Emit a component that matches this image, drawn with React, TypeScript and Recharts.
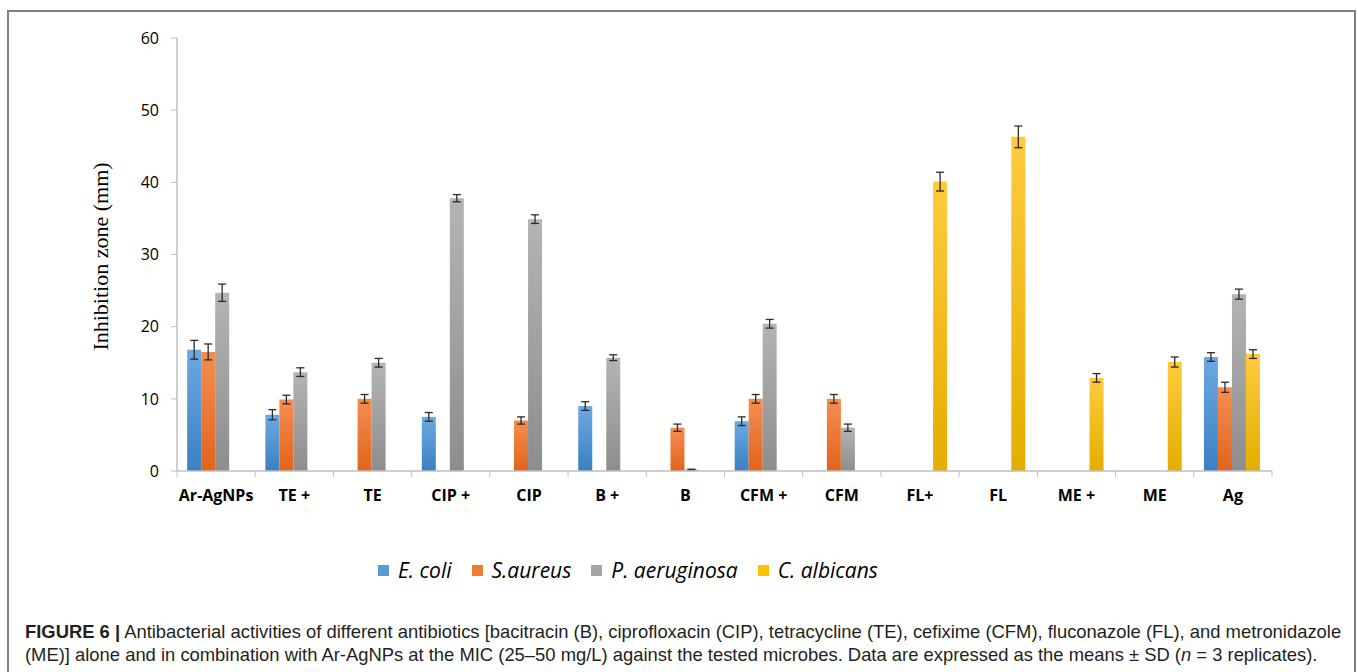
import React from 'react';
import { BarChart, Bar, XAxis, YAxis, ErrorBar, Legend } from 'recharts';

const categories = ['Ar-AgNPs', 'TE +', 'TE', 'CIP +', 'CIP', 'B +', 'B', 'CFM +', 'CFM', 'FL+', 'FL', 'ME +', 'ME', 'Ag'];

const ecoli = [16.8, 7.8, null, 7.5, null, 9.0, null, 6.9, null, null, null, null, null, 15.8];
const ecoliSD = [1.3, 0.7, null, 0.6, null, 0.6, null, 0.6, null, null, null, null, null, 0.6];

const saureus = [16.5, 9.9, 10.0, null, 7.0, null, 6.0, 10.0, 10.0, null, null, null, null, 11.6];
const saureusSD = [1.1, 0.6, 0.6, null, 0.5, null, 0.5, 0.6, 0.6, null, null, null, null, 0.7];

const paeruginosa = [24.7, 13.7, 15.0, 37.8, 34.9, 15.7, 0.2, 20.4, 6.0, null, null, null, null, 24.5];
const paeruginosaSD = [1.2, 0.6, 0.6, 0.5, 0.6, 0.4, 0.05, 0.6, 0.5, null, null, null, null, 0.7];

const calbicans = [null, null, null, null, null, null, null, null, null, 40.1, 46.3, 12.9, 15.1, 16.2];
const calbicansSD = [null, null, null, null, null, null, null, null, null, 1.3, 1.5, 0.6, 0.7, 0.6];

const yTicks = [0, 10, 20, 30, 40, 50, 60];

const data = categories.map((name, i) => ({
  name,
  ecoli: ecoli[i],
  ecoliSD: ecoliSD[i],
  saureus: saureus[i],
  saureusSD: saureusSD[i],
  paeruginosa: paeruginosa[i],
  paeruginosaSD: paeruginosaSD[i],
  calbicans: calbicans[i],
  calbicansSD: calbicansSD[i],
}));

const series = [
  { key: 'ecoli', name: 'E. coli', top: '#6DA9E1', bottom: '#3B80C3', swatch: '#5B9BD5' },
  { key: 'saureus', name: 'S.aureus', top: '#F38E52', bottom: '#E2641B', swatch: '#ED7D31' },
  { key: 'paeruginosa', name: 'P. aeruginosa', top: '#B4B4B4', bottom: '#8D8D8D', swatch: '#A5A5A5' },
  { key: 'calbicans', name: 'C. albicans', top: '#FFCB3D', bottom: '#E4AD00', swatch: '#FFC000' },
];

const CHART_W = 1358;
const CHART_H = 600;
const MARGIN = { top: 38, right: 86, left: 117, bottom: 99 };
const Y_W = 60;
const X_H = 30;
const PLOT_W = CHART_W - MARGIN.left - Y_W - MARGIN.right;
const BAND = PLOT_W / categories.length;
const AXIS_COLOR = '#BFBFBF';

const XTick = (props: any) => {
  const { x, y, payload, index } = props;
  const half = BAND / 2;
  return (
    <g>
      <line x1={x - half} x2={x - half} y1={y} y2={y + 6} stroke={AXIS_COLOR} strokeWidth={1} />
      {index === categories.length - 1 && (
        <line x1={x + half} x2={x + half} y1={y} y2={y + 6} stroke={AXIS_COLOR} strokeWidth={1} />
      )}
      <text
        x={x}
        y={y + 30}
        textAnchor="middle"
        fontFamily="'Open Sans', sans-serif"
        fontWeight={700}
        fontSize={16}
        fill="#000"
      >
        {payload.value}
      </text>
    </g>
  );
};

const YLabel = (props: any) => {
  const { viewBox } = props;
  const cy = viewBox.y + viewBox.height / 2 + 2;
  const cx = 108;
  return (
    <text
      x={cx}
      y={cy}
      transform={`rotate(-90, ${cx}, ${cy})`}
      textAnchor="middle"
      fontFamily="'Liberation Serif', 'Times New Roman', serif"
      fontSize={22}
      fill="#000"
    >
      Inhibition zone (mm)
    </text>
  );
};

const LegendContent = () => (
  <div
    style={{
      display: 'flex',
      alignItems: 'center',
      height: 26,
      paddingLeft: 378,
      fontFamily: "'Open Sans', sans-serif",
      fontStyle: 'italic',
      fontSize: 21,
      color: '#000',
      whiteSpace: 'nowrap',
    }}
  >
    {series.map((s) => (
      <div key={s.key} style={{ display: 'flex', alignItems: 'center', marginRight: 20 }}>
        <span style={{ display: 'inline-block', width: 11, height: 11, background: s.swatch, marginRight: 9 }} />
        <span>{s.name}</span>
      </div>
    ))}
  </div>
);

export default function App() {
  return (
    <div style={{ position: 'absolute', left: 0, top: 0, width: 1358, height: 672, background: '#fff', overflow: 'hidden' }}>
      <div
        style={{
          position: 'absolute',
          left: 7,
          top: 10,
          width: 1345,
          height: 720,
          border: '2px solid #808080',
          borderBottom: 'none',
        }}
      />
      <div style={{ position: 'absolute', left: 0, top: 0 }}>
        <BarChart
          width={CHART_W}
          height={CHART_H}
          data={data}
          margin={MARGIN}
          barCategoryGap="13%"
          barGap={0}
        >
          <defs>
            {series.map((s) => (
              <linearGradient key={s.key} id={`grad-${s.key}`} x1="0" y1="0" x2="0" y2="1">
                <stop offset="0%" stopColor={s.top} />
                <stop offset="100%" stopColor={s.bottom} />
              </linearGradient>
            ))}
          </defs>
          <XAxis
            dataKey="name"
            height={X_H}
            axisLine={{ stroke: AXIS_COLOR, strokeWidth: 1.5 }}
            tickLine={false}
            tickSize={0}
            tickMargin={0}
            interval={0}
            tick={<XTick />}
          />
          <YAxis
            width={Y_W}
            domain={[0, 60]}
            ticks={yTicks}
            interval={0}
            axisLine={{ stroke: AXIS_COLOR, strokeWidth: 1.5 }}
            tickLine={{ stroke: AXIS_COLOR }}
            tickSize={6}
            tickMargin={12}
            tick={{ fontFamily: "'Open Sans', sans-serif", fontSize: 16, fill: '#000' }}
            label={<YLabel />}
          />
          <Legend
            layout="horizontal"
            verticalAlign="middle"
            align="center"
            wrapperStyle={{ position: 'absolute', left: 0, top: 557, width: 1358, height: 26 }}
            content={<LegendContent />}
          />
          {series.map((s) => (
            <Bar
              key={s.key}
              dataKey={s.key}
              name={s.name}
              fill={`url(#grad-${s.key})`}
              isAnimationActive={false}
            >
              <ErrorBar dataKey={`${s.key}SD`} width={4} stroke="#2b2b2b" strokeWidth={1.3} direction="y" />
            </Bar>
          ))}
        </BarChart>
      </div>
      <div
        style={{
          position: 'absolute',
          left: 25,
          top: 620,
          width: 1330,
          fontFamily: "'Liberation Sans', Arial, sans-serif",
          fontSize: 18.4,
          lineHeight: '23px',
          color: '#231F20',
          whiteSpace: 'nowrap',
        }}
      >
        <b>FIGURE 6 |</b> Antibacterial activities of different antibiotics [bacitracin (B), ciprofloxacin (CIP), tetracycline (TE), cefixime (CFM), fluconazole (FL), and metronidazole
        <br />
        (ME)] alone and in combination with Ar-AgNPs at the MIC (25–50 mg/L) against the tested microbes. Data are expressed as the means ± SD (<i>n</i> = 3 replicates).
      </div>
    </div>
  );
}
